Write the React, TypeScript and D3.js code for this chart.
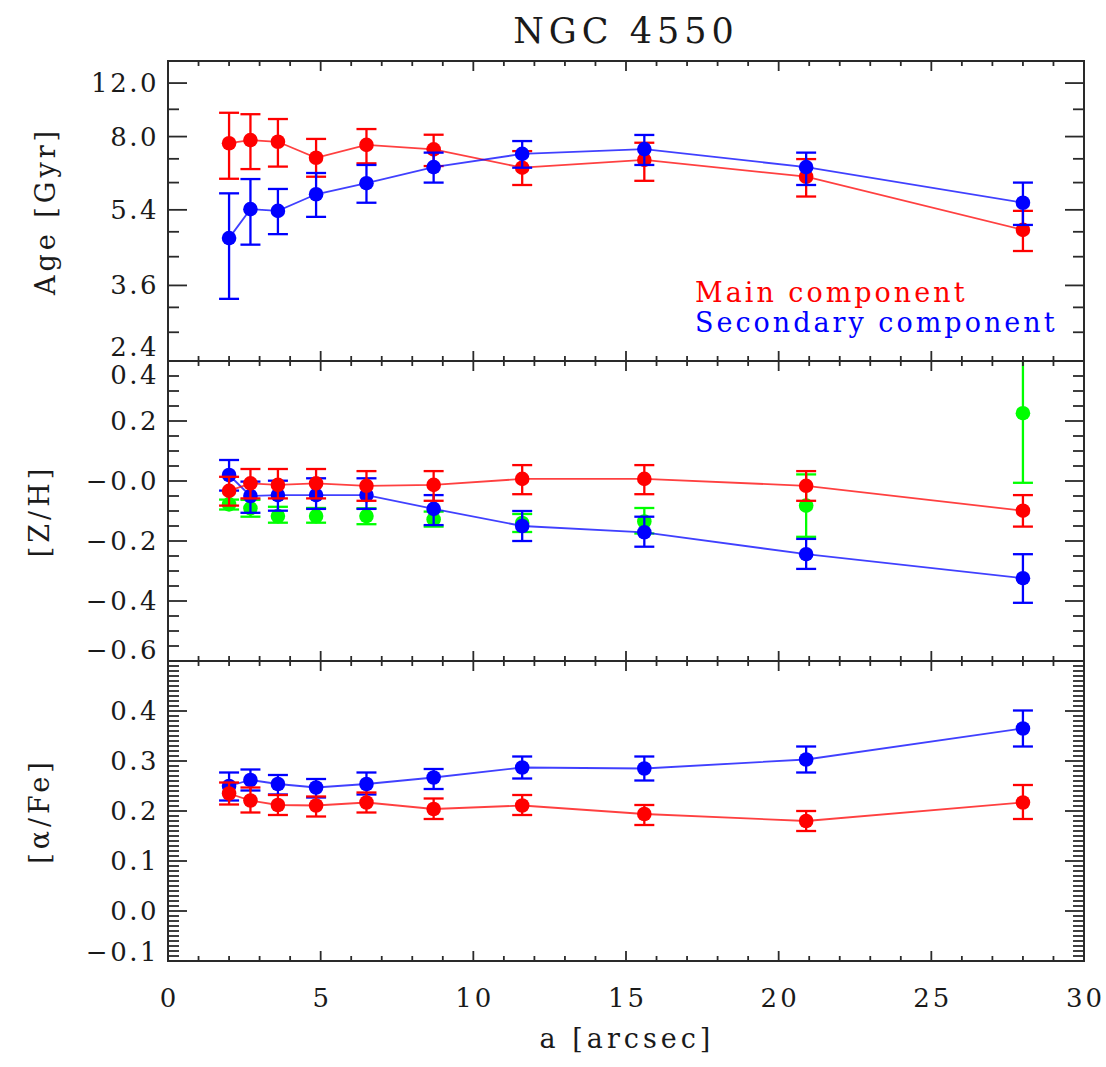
import React from "react";
import * as d3 from "d3";

// ---------- data ----------
const radius = [2.0, 2.7, 3.6, 4.85, 6.5, 8.7, 11.6, 15.6, 20.9, 28.0];

const ageMain = [7.72, 7.85, 7.78, 7.14, 7.65, 7.47, 6.77, 7.06, 6.45, 4.85];
const ageMainLo = [6.38, 6.72, 6.81, 6.45, 6.93, 6.83, 6.17, 6.31, 5.8, 4.33];
const ageMainHi = [9.09, 9.02, 8.79, 7.9, 8.33, 8.08, 7.4, 7.74, 7.09, 5.37];
const ageSec = [4.64, 5.42, 5.37, 5.87, 6.23, 6.79, 7.29, 7.48, 6.79, 5.61];
const ageSecLo = [3.35, 4.48, 4.74, 5.2, 5.61, 6.25, 6.77, 6.87, 6.17, 4.98];
const ageSecHi = [5.9, 6.37, 6.04, 6.58, 6.87, 7.34, 7.81, 8.07, 7.34, 6.25];

const zhMain = [-0.033, -0.008, -0.013, -0.008, -0.016, -0.013, 0.007, 0.007, -0.016, -0.099];
const zhMainLo = [-0.082, -0.058, -0.058, -0.058, -0.066, -0.066, -0.044, -0.044, -0.066, -0.152];
const zhMainHi = [0.014, 0.04, 0.04, 0.04, 0.033, 0.033, 0.053, 0.053, 0.033, -0.047];
const zhSec = [0.02, -0.05, -0.047, -0.047, -0.047, -0.093, -0.15, -0.171, -0.244, -0.324];
const zhSecLo = [-0.032, -0.106, -0.099, -0.093, -0.093, -0.147, -0.2, -0.219, -0.293, -0.406];
const zhSecHi = [0.07, -0.002, 0.001, 0.009, 0.009, -0.047, -0.1, -0.119, -0.193, -0.244];
const zhTotal = [-0.078, -0.091, -0.117, -0.117, -0.117, -0.128, -0.14, -0.135, -0.082, 0.226];
const zhTotalLo = [-0.095, -0.119, -0.139, -0.139, -0.144, -0.152, -0.17, -0.175, -0.186, -0.006];
const zhTotalHi = [-0.062, -0.063, -0.086, -0.09, -0.091, -0.102, -0.11, -0.09, 0.022, 0.46];

const afeMain = [0.235, 0.221, 0.212, 0.211, 0.217, 0.204, 0.211, 0.194, 0.18, 0.217];
const afeMainLo = [0.213, 0.197, 0.192, 0.189, 0.197, 0.184, 0.192, 0.172, 0.16, 0.184];
const afeMainHi = [0.257, 0.247, 0.232, 0.229, 0.237, 0.225, 0.232, 0.212, 0.2, 0.252];
const afeSec = [0.25, 0.262, 0.254, 0.247, 0.254, 0.267, 0.287, 0.285, 0.303, 0.365];
const afeSecLo = [0.221, 0.241, 0.233, 0.227, 0.233, 0.244, 0.265, 0.261, 0.277, 0.329];
const afeSecHi = [0.277, 0.283, 0.272, 0.264, 0.277, 0.284, 0.309, 0.309, 0.329, 0.401];

// ---------- ticks ----------
const xTicks = [0, 5, 10, 15, 20, 25, 30];
const xTickLabels = ["0", "5", "10", "15", "20", "25", "30"];
const xMinorTicks = [1, 2, 3, 4, 6, 7, 8, 9, 11, 12, 13, 14, 16, 17, 18, 19, 21, 22, 23, 24, 26, 27, 28, 29];

const ageTicks = [2.4, 3.6, 5.4, 8.0, 10.66];
const ageTickLabels = ["2.4", "3.6", "5.4", "8.0", "12.0"];
const ageMinorTicks = [2.8, 3.2, 4.2, 4.8, 6.25, 7.1, 9.26];

const zhTicks = [0.4, 0.2, 0.0, -0.2, -0.4, -0.6];
const zhTickLabels = ["0.4", "0.2", "\u22120.0", "\u22120.2", "\u22120.4", "\u22120.6"];
const zhMinorTicks = [0.35, 0.3, 0.25, 0.15, 0.1, 0.05, -0.05, -0.1, -0.15, -0.25, -0.3, -0.35, -0.45, -0.5, -0.55];

const afeTicks = [0.4, 0.3, 0.2, 0.1, 0.0, -0.1];
const afeTickLabels = ["0.4", "0.3", "0.2", "0.1", "0.0", "\u22120.1"];
const afeMinorTicks = d3.range(-10, 51).map((i) => i / 100).filter((v) => Math.round(v * 100) % 10 !== 0);

const panelTitles = ["Age [Gyr]", "[Z/H]", "[\u03b1/Fe]"];
const legendLabels = ["Main component", "Secondary component"];

// ---------- layout ----------
const W = 1106;
const H = 1067;
const LEFT = 168;
const RIGHT = 1084;
const FONT = "'DejaVu Serif', serif";
const AXIS = "#2a2a2a";
const RED = "#ff0000";
const BLUE = "#0000ff";
const GREEN = "#00ff00";

const x = d3.scaleLinear().domain([0, 30]).range([LEFT, RIGHT]);

type Series = { y: number[]; lo: number[]; hi: number[]; color: string; line: boolean };

function Panel(props: {
  id: string;
  top: number;
  bottom: number;
  scale: any;
  ticks: number[];
  labels: string[];
  minor: number[];
  title: string;
  titleX: number;
  series: Series[];
  nudge: Record<number, number>;
}) {
  const { id, top, bottom, scale, ticks, labels, minor, title, titleX, series, nudge } = props;
  const line = d3
    .line<number>()
    .x((_, i) => x(radius[i]))
    .y((v) => scale(v));
  const mid = (top + bottom) / 2;
  const capW = 10;
  return (
    <g>
      <defs>
        <clipPath id={"clip-" + id}>
          <rect x={LEFT} y={top} width={RIGHT - LEFT} height={bottom - top} />
        </clipPath>
      </defs>
      <g clipPath={`url(#clip-${id})`}>
        {series.map((s, si) => (
          <g key={si}>
            {s.line && (
              <path d={line(s.y) || ""} fill="none" stroke={s.color} strokeWidth={1.8} strokeOpacity={0.75} />
            )}
            {s.y.map((v, i) => {
              const cx = x(radius[i]);
              const yl = scale(s.lo[i]);
              const yh = scale(s.hi[i]);
              return (
                <g key={i}>
                  <line x1={cx} x2={cx} y1={yl} y2={yh} stroke={s.color} strokeWidth={2.3} />
                  <line x1={cx - capW} x2={cx + capW} y1={yl} y2={yl} stroke={s.color} strokeWidth={2.3} />
                  <line x1={cx - capW} x2={cx + capW} y1={yh} y2={yh} stroke={s.color} strokeWidth={2.3} />
                  <circle cx={cx} cy={scale(v)} r={7.3} fill={s.color} />
                </g>
              );
            })}
          </g>
        ))}
      </g>
      <rect x={LEFT} y={top} width={RIGHT - LEFT} height={bottom - top} fill="none" stroke={AXIS} strokeWidth={2} />
      {xTicks.map((t) => (
        <g key={"xt" + t}>
          <line x1={x(t)} x2={x(t)} y1={top} y2={top + 10} stroke={AXIS} strokeWidth={1.8} />
          <line x1={x(t)} x2={x(t)} y1={bottom} y2={bottom - 10} stroke={AXIS} strokeWidth={1.8} />
        </g>
      ))}
      {xMinorTicks.map((t) => (
        <g key={"xm" + t}>
          <line x1={x(t)} x2={x(t)} y1={top} y2={top + 5} stroke={AXIS} strokeWidth={1.8} />
          <line x1={x(t)} x2={x(t)} y1={bottom} y2={bottom - 5} stroke={AXIS} strokeWidth={1.8} />
        </g>
      ))}
      {ticks.map((t, i) => (
        <g key={"yt" + i}>
          <line x1={LEFT} x2={LEFT + 19} y1={scale(t)} y2={scale(t)} stroke={AXIS} strokeWidth={1.8} />
          <line x1={RIGHT} x2={RIGHT - 19} y1={scale(t)} y2={scale(t)} stroke={AXIS} strokeWidth={1.8} />
          <text
            x={159}
            y={scale(t) + (nudge[i] || 0)}
            textAnchor="end"
            dominantBaseline="central"
            fontFamily={FONT}
            fontSize={26}
            letterSpacing={2.5}
            fill="#1a1a1a"
          >
            {labels[i]}
          </text>
        </g>
      ))}
      {minor.map((t, i) => (
        <g key={"ym" + i}>
          <line x1={LEFT} x2={LEFT + 11} y1={scale(t)} y2={scale(t)} stroke={AXIS} strokeWidth={1.8} />
          <line x1={RIGHT} x2={RIGHT - 11} y1={scale(t)} y2={scale(t)} stroke={AXIS} strokeWidth={1.8} />
        </g>
      ))}
      <text
        transform={`translate(${titleX},${mid}) rotate(-90)`}
        textAnchor="middle"
        dominantBaseline="central"
        fontFamily={FONT}
        fontSize={27}
        letterSpacing={4}
        fill="#1a1a1a"
      >
        {title}
      </text>
    </g>
  );
}

export default function App() {
  const yAge = d3.scaleLog().domain([2.4, 12.0]).range([361, 61]);
  const yZh = d3.scaleLinear().domain([-0.6, 0.4]).range([661, 361]);
  const yAfe = d3.scaleLinear().domain([-0.1, 0.5]).range([961, 661]);

  return (
    <svg
      width={W}
      height={H}
      viewBox={`0 0 ${W} ${H}`}
      style={{ position: "absolute", left: 0, top: 0, background: "#fff" }}
    >
      <rect width={W} height={H} fill="#fff" />
      <text x={626} y={31} textAnchor="middle" dominantBaseline="central" fontFamily={FONT} fontSize={35} letterSpacing={5} fill="#1a1a1a">
        NGC 4550
      </text>
      <Panel
        id="age"
        top={61}
        bottom={361}
        scale={yAge}
        ticks={ageTicks}
        labels={ageTickLabels}
        minor={ageMinorTicks}
        title={panelTitles[0]}
        titleX={45}
        nudge={{ 0: -14 }}
        series={[
          { y: ageMain, lo: ageMainLo, hi: ageMainHi, color: RED, line: true },
          { y: ageSec, lo: ageSecLo, hi: ageSecHi, color: BLUE, line: true },
        ]}
      />
      <Panel
        id="zh"
        top={361}
        bottom={661}
        scale={yZh}
        ticks={zhTicks}
        labels={zhTickLabels}
        minor={zhMinorTicks}
        title={panelTitles[1]}
        titleX={39}
        nudge={{ 0: 14, 5: -11 }}
        series={[
          { y: zhTotal, lo: zhTotalLo, hi: zhTotalHi, color: GREEN, line: false },
          { y: zhSec, lo: zhSecLo, hi: zhSecHi, color: BLUE, line: true },
          { y: zhMain, lo: zhMainLo, hi: zhMainHi, color: RED, line: true },
        ]}
      />
      <Panel
        id="afe"
        top={661}
        bottom={961}
        scale={yAfe}
        ticks={afeTicks}
        labels={afeTickLabels}
        minor={afeMinorTicks}
        title={panelTitles[2]}
        titleX={39}
        nudge={{ 5: -9 }}
        series={[
          { y: afeSec, lo: afeSecLo, hi: afeSecHi, color: BLUE, line: true },
          { y: afeMain, lo: afeMainLo, hi: afeMainHi, color: RED, line: true },
        ]}
      />
      {xTicks.map((t, i) => (
        <text key={"xl" + t} x={x(t) + 1.5} y={998} textAnchor="middle" dominantBaseline="central" fontFamily={FONT} fontSize={26} letterSpacing={3} fill="#1a1a1a">
          {xTickLabels[i]}
        </text>
      ))}
      <text x={627} y={1038} textAnchor="middle" dominantBaseline="central" fontFamily={FONT} fontSize={27} letterSpacing={4} fill="#1a1a1a">
        a [arcsec]
      </text>
      <text x={695} y={292} dominantBaseline="central" fontFamily={FONT} fontSize={27} letterSpacing={3} fill={RED}>
        {legendLabels[0]}
      </text>
      <text x={695} y={322} dominantBaseline="central" fontFamily={FONT} fontSize={27} letterSpacing={3} fill={BLUE}>
        {legendLabels[1]}
      </text>
    </svg>
  );
}
